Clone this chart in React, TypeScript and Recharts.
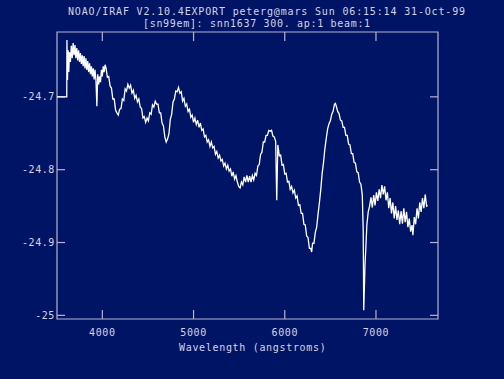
import React from 'react'
import { LineChart, Line, XAxis, YAxis, ReferenceArea } from 'recharts'

const wavelength = [
  3504, 3610, 3612, 3618, 3625, 3632, 3640, 3650, 3660, 3670, 3680, 3690, 3700, 3710, 3720, 3730,
  3740, 3750, 3760, 3770, 3780, 3790, 3800, 3810, 3820, 3830, 3840, 3850, 3860, 3870, 3880, 3890,
  3900, 3910, 3920, 3930, 3940, 3950, 3960, 3970, 3980, 3990, 4000, 4010, 4020, 4030, 4040, 4055,
  4070, 4085, 4100, 4115, 4130, 4145, 4160, 4175, 4190, 4205, 4220, 4235, 4250, 4265, 4280, 4295,
  4310, 4325, 4340, 4355, 4370, 4385, 4400, 4415, 4430, 4445, 4460, 4475, 4490, 4505, 4520, 4535,
  4550, 4565, 4580, 4595, 4610, 4625, 4640, 4655, 4670, 4685, 4700, 4715, 4730, 4745, 4760, 4775,
  4790, 4805, 4820, 4835, 4850, 4865, 4880, 4895, 4910, 4925, 4940, 4955, 4970, 4985, 5000, 5015,
  5030, 5045, 5060, 5075, 5090, 5105, 5120, 5135, 5150, 5165, 5180, 5195, 5210, 5225, 5240, 5255,
  5270, 5285, 5300, 5315, 5330, 5345, 5360, 5375, 5390, 5405, 5420, 5435, 5450, 5465, 5480, 5495,
  5510, 5525, 5540, 5555, 5570, 5585, 5600, 5615, 5630, 5645, 5660, 5675, 5690, 5705, 5720, 5735,
  5750, 5765, 5780, 5795, 5810, 5825, 5840, 5855, 5870, 5885, 5900, 5912, 5924, 5940, 5955, 5970,
  5985, 6000, 6015, 6030, 6045, 6060, 6075, 6090, 6105, 6120, 6135, 6150, 6165, 6180, 6195, 6210,
  6225, 6240, 6255, 6270, 6285, 6295, 6305, 6320, 6335, 6350, 6365, 6380, 6395, 6410, 6425, 6440,
  6455, 6470, 6485, 6500, 6515, 6530, 6545, 6555, 6565, 6580, 6595, 6610, 6625, 6640, 6655, 6670,
  6685, 6700, 6715, 6730, 6745, 6760, 6775, 6790, 6805, 6820, 6835, 6850, 6860, 6866, 6872, 6880,
  6890, 6900, 6915, 6930, 6945, 6960, 6975, 6990, 7005, 7020, 7035, 7050, 7065, 7080, 7095, 7110,
  7125, 7140, 7155, 7170, 7185, 7200, 7215, 7230, 7245, 7260, 7275, 7290, 7305, 7320, 7335, 7350,
  7365, 7380, 7395, 7405, 7420, 7435, 7450, 7465, 7480, 7495, 7510, 7525, 7540, 7555, 7566,
]

const flux = [
  -24.700, -24.700, -24.622, -24.677, -24.636, -24.666, -24.639, -24.652, -24.630, -24.647, -24.626, -24.643, -24.629, -24.647, -24.633, -24.650,
  -24.636, -24.652, -24.640, -24.655, -24.643, -24.658, -24.644, -24.661, -24.647, -24.663, -24.651, -24.666, -24.654, -24.669, -24.658, -24.672,
  -24.661, -24.676, -24.663, -24.677, -24.713, -24.669, -24.683, -24.672, -24.680, -24.663, -24.672, -24.658, -24.666, -24.656, -24.660, -24.673,
  -24.672, -24.685, -24.688, -24.703, -24.703, -24.718, -24.722, -24.725, -24.717, -24.716, -24.703, -24.705, -24.689, -24.692, -24.683, -24.688,
  -24.684, -24.695, -24.691, -24.702, -24.698, -24.707, -24.703, -24.714, -24.716, -24.729, -24.727, -24.735, -24.729, -24.733, -24.722, -24.724,
  -24.711, -24.714, -24.706, -24.710, -24.710, -24.722, -24.722, -24.736, -24.740, -24.755, -24.762, -24.758, -24.751, -24.731, -24.724, -24.707,
  -24.703, -24.692, -24.693, -24.687, -24.695, -24.693, -24.706, -24.702, -24.713, -24.710, -24.720, -24.717, -24.728, -24.725, -24.735, -24.729,
  -24.738, -24.732, -24.742, -24.736, -24.746, -24.744, -24.755, -24.753, -24.762, -24.759, -24.768, -24.762, -24.770, -24.768, -24.779, -24.775,
  -24.784, -24.780, -24.788, -24.786, -24.795, -24.791, -24.799, -24.794, -24.802, -24.799, -24.809, -24.803, -24.813, -24.808, -24.817, -24.823,
  -24.825, -24.817, -24.821, -24.810, -24.817, -24.808, -24.817, -24.809, -24.817, -24.808, -24.814, -24.805, -24.808, -24.795, -24.793, -24.779,
  -24.776, -24.762, -24.762, -24.753, -24.753, -24.746, -24.747, -24.746, -24.754, -24.755, -24.761, -24.842, -24.766, -24.781, -24.780, -24.794,
  -24.793, -24.806, -24.805, -24.817, -24.816, -24.827, -24.823, -24.832, -24.828, -24.839, -24.836, -24.849, -24.848, -24.860, -24.860, -24.875,
  -24.876, -24.891, -24.893, -24.908, -24.908, -24.913, -24.901, -24.901, -24.886, -24.879, -24.861, -24.845, -24.827, -24.805, -24.790, -24.771,
  -24.757, -24.744, -24.737, -24.733, -24.724, -24.720, -24.710, -24.709, -24.713, -24.720, -24.723, -24.732, -24.733, -24.742, -24.742, -24.753,
  -24.753, -24.765, -24.766, -24.778, -24.778, -24.790, -24.791, -24.803, -24.804, -24.817, -24.820, -24.835, -24.883, -24.993, -24.966, -24.931,
  -24.904, -24.876, -24.858, -24.850, -24.838, -24.852, -24.835, -24.849, -24.831, -24.843, -24.827, -24.839, -24.821, -24.834, -24.823, -24.842,
  -24.831, -24.853, -24.839, -24.860, -24.845, -24.867, -24.850, -24.869, -24.856, -24.875, -24.857, -24.874, -24.853, -24.872, -24.858, -24.879,
  -24.867, -24.885, -24.876, -24.890, -24.865, -24.875, -24.853, -24.867, -24.845, -24.858, -24.839, -24.853, -24.834, -24.850, -24.849,
]

const xTicks = [4000, 5000, 6000, 7000]
const yTicks = [-24.7, -24.8, -24.9, -25]

const X_DOMAIN: [number, number] = [3503, 7680]
const Y_DOMAIN: [number, number] = [-25.005, -24.611]
// tick lengths in data units (~9px vertical, ~8px horizontal)
const X_TICK_LEN = 0.0124
const Y_TICK_LEN = 88

const spectrum = wavelength.map((w, i) => ({ w, f: flux[i] }))

// inward tick marks on all four sides of the frame, as short two-point segments
const tickSegments = [
  ...xTicks.map((t) => [{ w: t, f: Y_DOMAIN[0] }, { w: t, f: Y_DOMAIN[0] + X_TICK_LEN }]),
  ...xTicks.map((t) => [{ w: t, f: Y_DOMAIN[1] }, { w: t, f: Y_DOMAIN[1] - X_TICK_LEN }]),
  ...yTicks.map((t) => [{ w: X_DOMAIN[0], f: t }, { w: X_DOMAIN[0] + Y_TICK_LEN, f: t }]),
  ...yTicks.map((t) => [{ w: X_DOMAIN[1], f: t }, { w: X_DOMAIN[1] - Y_TICK_LEN, f: t }]),
]

const BG = '#001466'
const FRAME = '#b4b4d0'
const TEXT = '#d4d4e4'
const MONO = '"DejaVu Sans Mono", "Liberation Mono", monospace'

const tickStyle = { fill: TEXT, fontSize: 10, fontFamily: MONO, letterSpacing: 0.6 }

const textBox = (left: number, top: number, spacing: number): React.CSSProperties => ({
  position: 'absolute', left, top, fontFamily: MONO, fontSize: 10, letterSpacing: spacing,
  lineHeight: '10px', color: TEXT, whiteSpace: 'pre',
})

export default function App() {
  return (
    <div style={{ position: 'absolute', left: 0, top: 0, width: 504, height: 379, background: BG, overflow: 'hidden' }}>
      <style>{'body{margin:0}'}</style>
      <div style={textBox(68, 7, 0.84)}>NOAO/IRAF V2.10.4EXPORT peterg@mars Sun 06:15:14 31-Oct-99</div>
      <div style={textBox(143, 18.5, 0.68)}>[sn99em]: snn1637 300. ap:1 beam:1</div>
      <div style={textBox(179, 343, 0.68)}>Wavelength (angstroms)</div>

      <LineChart
        width={504}
        height={379}
        data={spectrum}
        margin={{ top: 32, right: 66, bottom: 30, left: 7 }}
        style={{ position: 'absolute', left: 0, top: 0 }}
      >
        <XAxis
          dataKey="w"
          type="number"
          domain={X_DOMAIN}
          ticks={xTicks}
          allowDataOverflow
          height={30}
          tickSize={0}
          tickMargin={9.5}
          axisLine={false}
          tickLine={false}
          tick={tickStyle}
        />
        <YAxis
          type="number"
          domain={Y_DOMAIN}
          ticks={yTicks}
          allowDataOverflow
          width={50}
          tickSize={0}
          tickMargin={2}
          axisLine={false}
          tickLine={false}
          tick={tickStyle}
          tickFormatter={(v: number) => String(v)}
        />
        <ReferenceArea
          x1={X_DOMAIN[0]} x2={X_DOMAIN[1]} y1={Y_DOMAIN[0]} y2={Y_DOMAIN[1]}
          fill="none" stroke={FRAME} strokeWidth={1.2} fillOpacity={0}
        />
        {tickSegments.map((seg, i) => (
          <Line
            key={'tick' + i}
            data={seg}
            dataKey="f"
            type="linear"
            stroke={FRAME}
            strokeWidth={1.2}
            dot={false}
            activeDot={false}
            legendType="none"
            isAnimationActive={false}
          />
        ))}
        <Line
          dataKey="f"
          type="linear"
          stroke="#ffffff"
          strokeWidth={1.3}
          dot={false}
          isAnimationActive={false}
        />
      </LineChart>
    </div>
  )
}
